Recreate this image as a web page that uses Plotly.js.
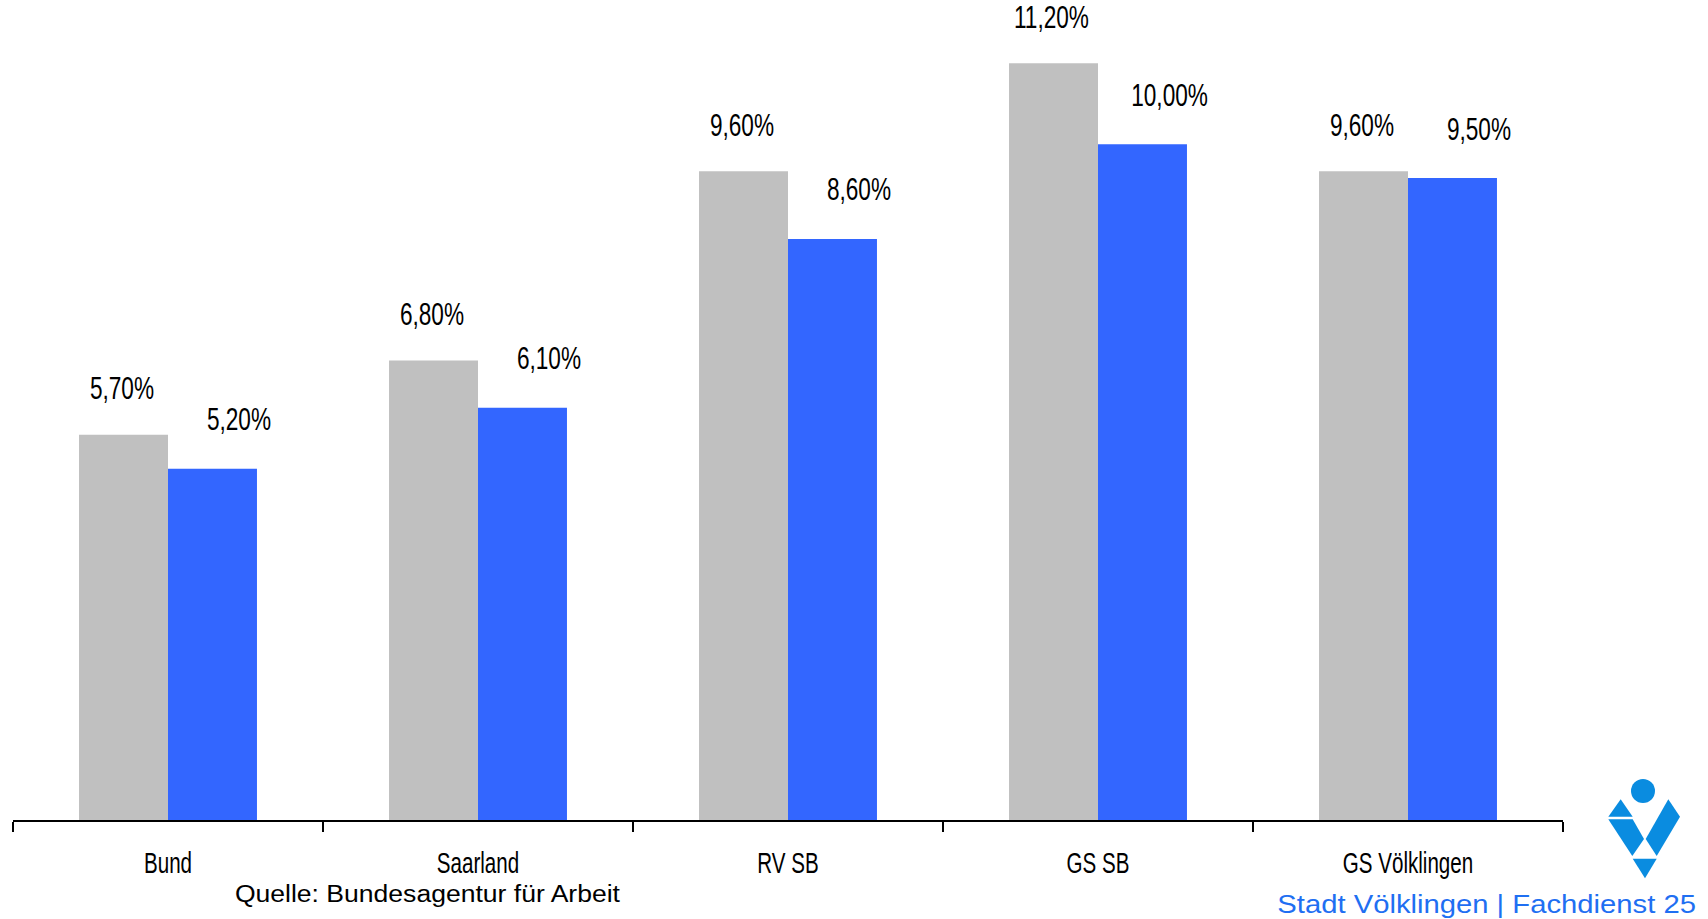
<!DOCTYPE html>
<html>
<head>
<meta charset="utf-8">
<script src="https://cdn.plot.ly/plotly-3.0.1.min.js"></script>
<style>
  html, body { margin: 0; padding: 0; background: #ffffff; }
  #chart { width: 1708px; height: 919px; }
</style>
</head>
<body>
<div id="chart"></div>
<script>
// ---- data ----
const categories = ['Bund', 'Saarland', 'RV SB', 'GS SB', 'GS Völklingen'];
const previousRates = [5.7, 6.8, 9.6, 11.2, 9.6];   // grey bars
const currentRates  = [5.2, 6.1, 8.6, 10.0, 9.5];   // blue bars
const sourceNote = 'Quelle: Bundesagentur für Arbeit';
const creditNote = 'Stadt Völklingen | Fachdienst 25';

// ---- style ----
const GREY = '#c0c0c0';
const BLUE = '#3366ff';
const LOGO = '#0a8ce0';
const SANS = '"Liberation Sans", Arial, sans-serif';
const W = 1708, H = 919;
const M = { l: 13, r: 145, t: 20, b: 99 };
const BARGAP = 0.426;
const YMAX = 11.84;
const VALUE_SX = 0.73, TICK_SX = 0.71, SRC_SX = 1.13, CREDIT_SX = 1.17;

const fmt = v => v.toFixed(2).replace('.', ',') + '%';

// pixel -> paper helpers (for decorations only)
const plotW = W - M.l - M.r, plotH = H - M.t - M.b;
const px = p => (p - M.l) / plotW;
const py = p => (H - M.b - p) / plotH;

const traces = [
  { type: 'bar', name: 'Vorjahr', x: categories, y: previousRates,
    marker: { color: GREY, line: { width: 0 } }, hoverinfo: 'x+y' },
  { type: 'bar', name: 'Aktuell', x: categories, y: currentRates,
    marker: { color: BLUE, line: { width: 0 } }, hoverinfo: 'x+y' }
];

const half = (1 - BARGAP) / 4;  // half a bar width in category units
const annotations = [];
categories.forEach((c, i) => {
  annotations.push({ x: i - half, y: previousRates[i], xref: 'x', yref: 'y',
    text: fmt(previousRates[i]), showarrow: false, yanchor: 'middle', xanchor: 'center',
    yshift: 46, xshift: -2, font: { family: SANS, size: 31, color: '#000' } });
  annotations.push({ x: i + half, y: currentRates[i], xref: 'x', yref: 'y',
    text: fmt(currentRates[i]), showarrow: false, yanchor: 'middle', xanchor: 'center',
    yshift: 49, xshift: 27, font: { family: SANS, size: 31, color: '#000' } });
});
const nValueLabels = annotations.length;
annotations.push({ xref: 'paper', yref: 'paper', x: px(427), y: py(894),
  text: sourceNote, showarrow: false, xanchor: 'center', yanchor: 'middle',
  font: { family: SANS, size: 23.5, color: '#000' } });
annotations.push({ xref: 'paper', yref: 'paper', x: px(1698), y: py(904),
  text: creditNote, showarrow: false, xanchor: 'right', yanchor: 'middle',
  font: { family: SANS, size: 25, color: '#1f6ff2' } });

// logo (decoration)
const poly = pts => 'M ' + pts.map(p => px(p[0]) + ',' + py(p[1])).join(' L ') + ' Z';
const shapes = [
  { type: 'path', xref: 'paper', yref: 'paper', line: { width: 0 }, fillcolor: LOGO,
    path: poly([[1608.3, 816.7], [1620.7, 799.3], [1632.7, 816.7]]) },
  { type: 'path', xref: 'paper', yref: 'paper', line: { width: 0 }, fillcolor: LOGO,
    path: poly([[1608.3, 819.3], [1632.7, 819.3], [1644, 839], [1632.3, 856]]) },
  { type: 'path', xref: 'paper', yref: 'paper', line: { width: 0 }, fillcolor: LOGO,
    path: poly([[1668.3, 799.3], [1680, 816.7], [1656.7, 856], [1645.7, 839]]) },
  { type: 'path', xref: 'paper', yref: 'paper', line: { width: 0 }, fillcolor: LOGO,
    path: poly([[1632.7, 858.7], [1656.7, 858.7], [1645, 878.3]]) },
  { type: 'circle', xref: 'paper', yref: 'paper', line: { width: 0 }, fillcolor: LOGO,
    x0: px(1631), x1: px(1655), y0: py(803), y1: py(779) }
];

const layout = {
  width: W, height: H,
  margin: M,
  paper_bgcolor: '#ffffff', plot_bgcolor: '#ffffff',
  showlegend: false,
  barmode: 'group', bargap: BARGAP, bargroupgap: 0,
  xaxis: {
    type: 'category', range: [-0.5, categories.length - 0.5],
    showline: true, linecolor: '#000', linewidth: 2,
    ticks: 'outside', tickson: 'boundaries', ticklen: 10, tickwidth: 2, tickcolor: '#000',
    showgrid: false, zeroline: false,
    tickfont: { family: SANS, size: 29, color: '#000' },
    ticklabelstandoff: 16, fixedrange: true
  },
  yaxis: { range: [0, YMAX], visible: false, showgrid: false, zeroline: false, fixedrange: true },
  annotations: annotations,
  shapes: shapes
};

// horizontal squeeze/stretch of text to imitate the reference's condensed lettering
function scaleTextX(el, sx, anchor) {
  const bb = el.getBBox();
  const cx = anchor === 'right' ? bb.x + bb.width : bb.x + bb.width / 2;
  const prev = el.getAttribute('transform') || '';
  el.setAttribute('transform', prev + ' translate(' + cx + ',0) scale(' + sx + ',1) translate(' + (-cx) + ',0)');
}

Plotly.newPlot('chart', traces, layout, { displayModeBar: false, staticPlot: true }).then(gd => {
  gd.querySelectorAll('.xtick text').forEach(t => scaleTextX(t, TICK_SX, 'center'));
  gd.querySelectorAll('g.annotation').forEach(g => {
    const idx = +g.getAttribute('data-index');
    const t = g.querySelector('text.annotation-text');
    if (!t) return;
    if (idx < nValueLabels) scaleTextX(t, VALUE_SX, 'center');
    else if (idx === nValueLabels) scaleTextX(t, SRC_SX, 'center');
    else scaleTextX(t, CREDIT_SX, 'right');
  });
});
</script>
</body>
</html>
